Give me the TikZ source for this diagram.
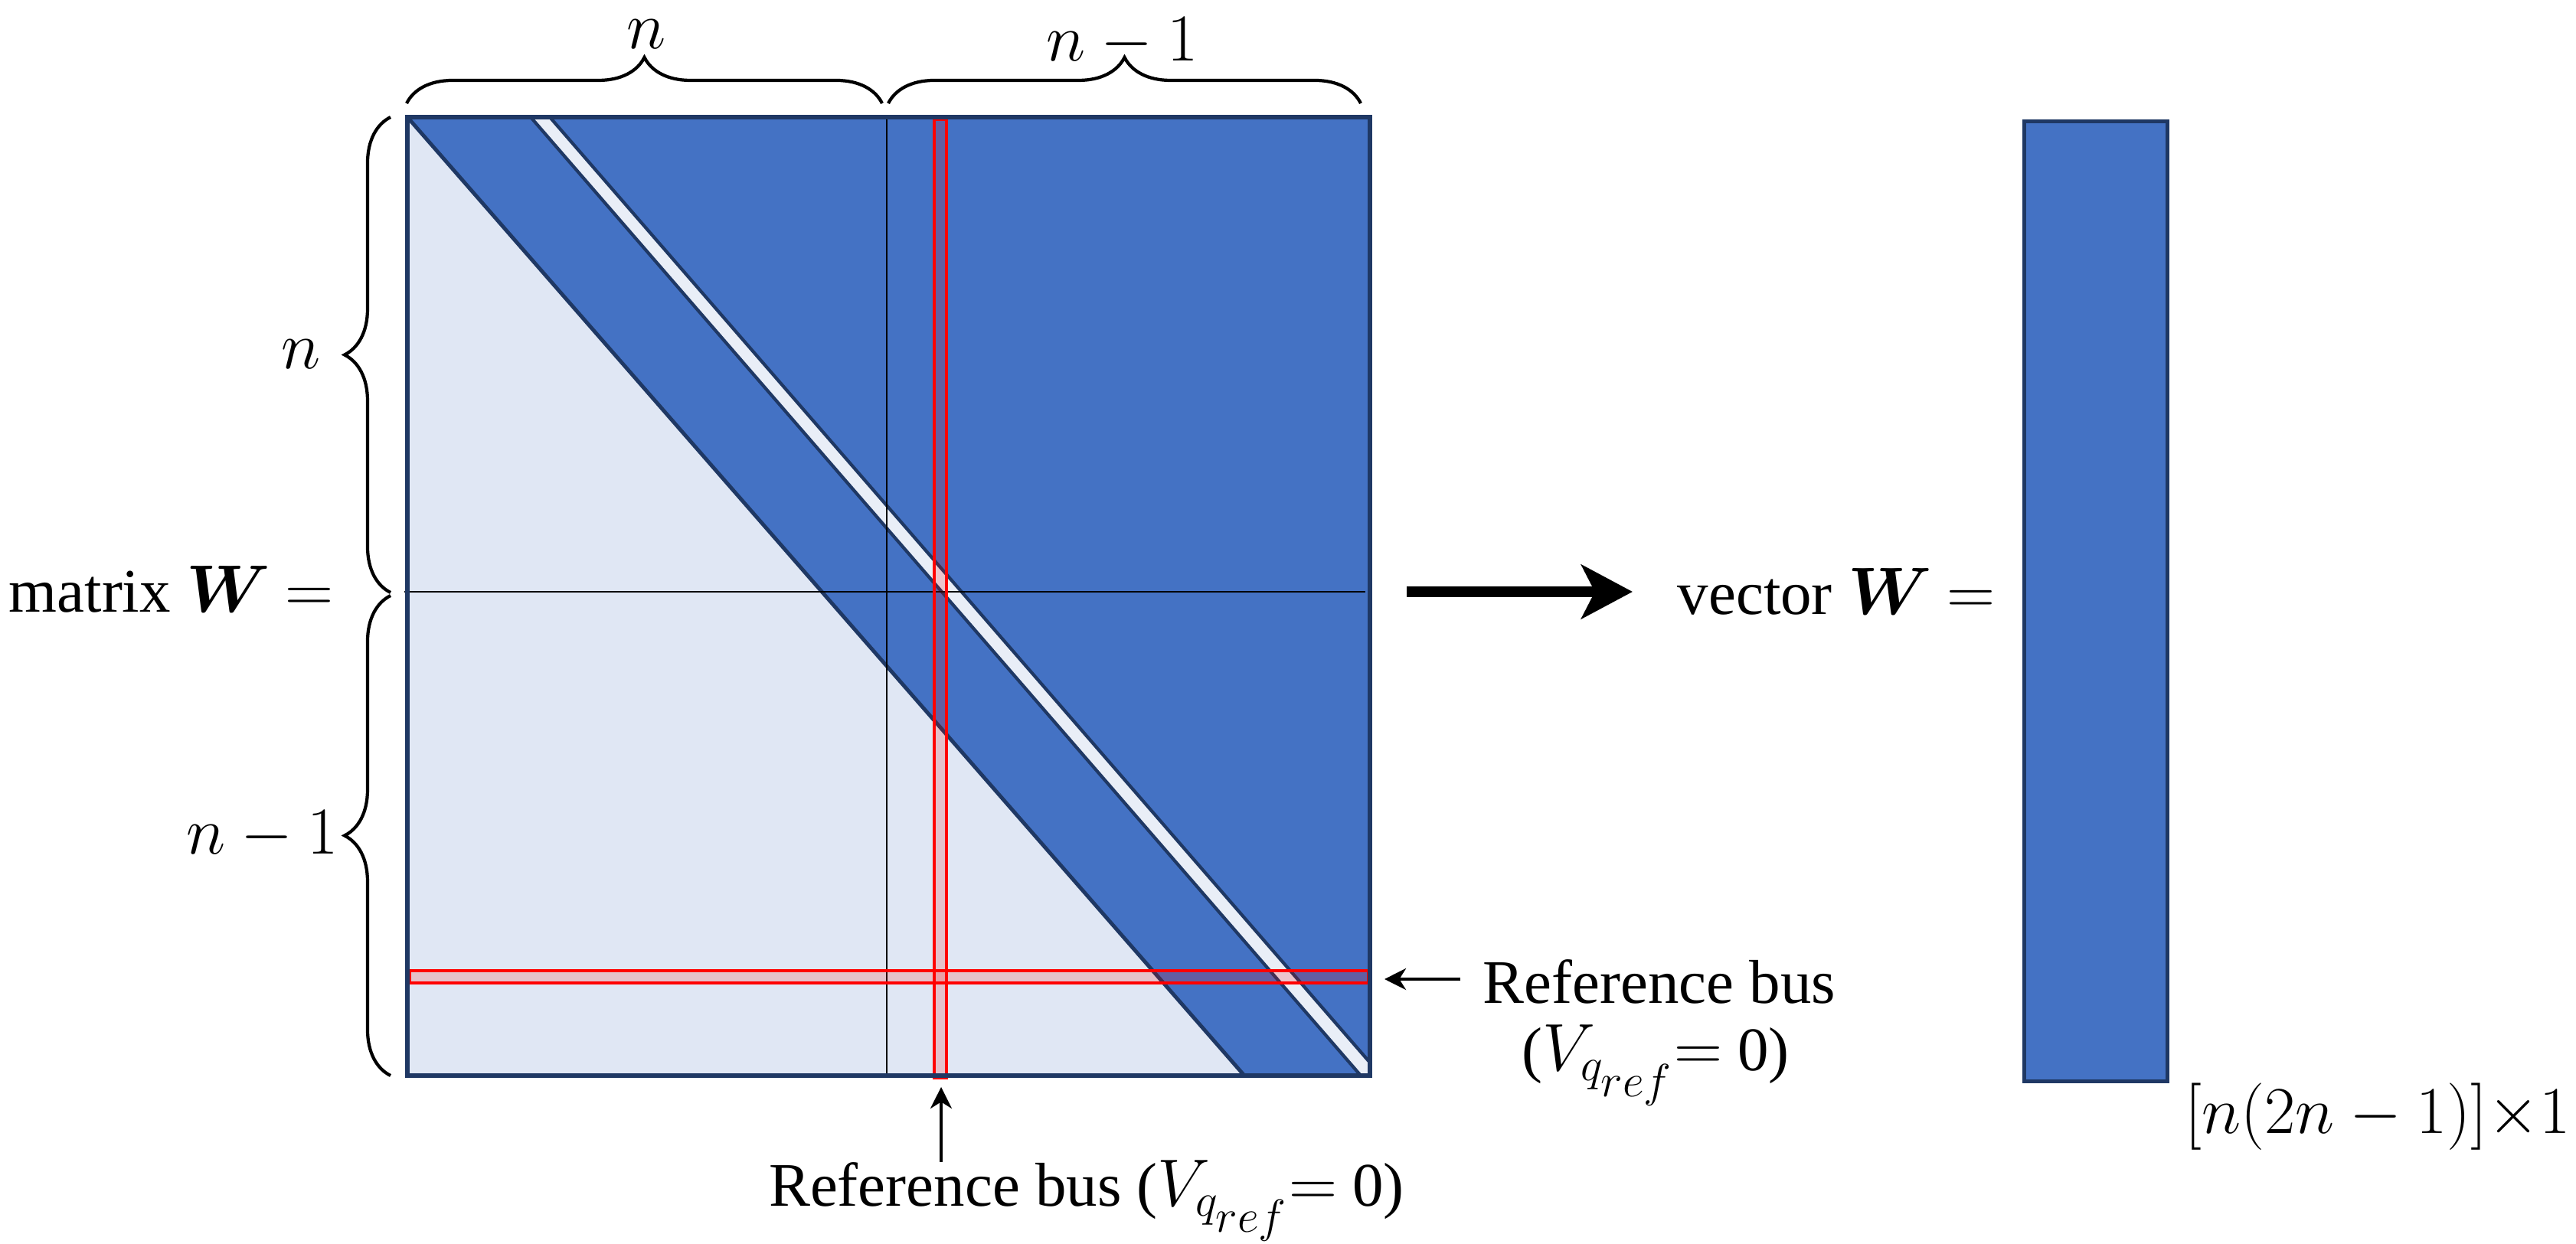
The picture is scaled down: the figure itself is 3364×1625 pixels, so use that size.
\documentclass[tikz,border=0pt]{standalone}
\usepackage{fontspec}
\setmainfont{Liberation Serif}
\usepackage{amsmath,bm}
\usetikzlibrary{arrows.meta,decorations.pathreplacing}
\definecolor{dblue}{HTML}{4472C4}
\definecolor{lblue}{HTML}{E0E7F4}
\definecolor{navy}{HTML}{1F3864}
\begin{document}
\begin{tikzpicture}[x=0.01cm,y=0.01cm,
  font=\fontsize{23}{28}\selectfont,
  outl/.style={draw=navy, line width=1.4pt, line join=round},
  divl/.style={draw=black, line width=0.6pt},
  redbar/.style={draw=red, line width=1.4pt, fill=red, fill opacity=0.17},
  bracel/.style={decorate, decoration={brace, amplitude=0.6cm}, line width=1.2pt},
  annot/.style={-{Stealth[length=8pt,width=8pt,inset=2.5pt]}, line width=0.9pt},
  bigarrow/.style={-{Stealth[length=19pt,width=20pt,inset=5pt]}, line width=3.7pt},
  lbl/.style={inner sep=0pt}]
\useasboundingbox (0,0) rectangle (3364,-1625);
% matrix corners
\coordinate (TL) at (532,-153);
\coordinate (TR) at (1789,-153);
\coordinate (BR) at (1789,-1405);
\coordinate (BL) at (532,-1405);
\coordinate (D1) at (1625,-1405);
% fills
\fill[lblue] (TL) rectangle (BR);
\fill[dblue] (TL) -- (TR) -- (BR) -- (D1) -- cycle;
\draw[outl] (TL) -- (D1);
\filldraw[fill=lblue!70!white, outl, line width=1.2pt] (693,-153) -- (718,-153) -- (1789,-1388) -- (1789,-1405) -- (1777,-1405) -- cycle;
% dividers
\draw[divl] (1158,-153) -- (1158,-1405);
\draw[divl] (528,-773) -- (1783,-773);
% red bars
\draw[redbar] (1220,-156) rectangle (1236,-1408);
\draw[redbar] (535,-1268) rectangle (1787,-1284);
% border
\draw[navy, line width=1.7pt] (TL) rectangle (BR);
% vector
\node[draw=navy, fill=dblue, line width=1.5pt, minimum width=1.87cm, minimum height=12.53cm, inner sep=0pt, anchor=north west] (vec) at (2641,-156) {};
% braces
\draw[bracel] (531,-135) -- (1152,-135);
\draw[bracel] (1160,-135) -- (1777,-135);
\draw[bracel] (510,-774) -- (510,-153);
\draw[bracel] (510,-1405) -- (510,-778);
% labels
\node[lbl, anchor=base] (ntop) at (844,-64) {$n$};
\node[lbl, anchor=base] (nm1top) at (1466,-80) {$n-1$};
\node[lbl] (nleft) at (393,-463) {$n$};
\node[lbl, anchor=base] (nm1left) at (343,-1115) {$n-1$};
\node[lbl, anchor=base west] (matW) at (11,-799) {matrix $\boldsymbol{W}$ $=$};
\node[lbl, anchor=base west] (vecW) at (2190,-802) {vector $\boldsymbol{W}$ $=$};
\node[lbl, anchor=base west] (refR) at (1936,-1310) {Reference bus};
\node[lbl, anchor=base] (refR2) at (2162,-1398) {($V_{q_{\scriptstyle ref}}$$=$ 0)};
\node[lbl, anchor=base] (refB) at (1419,-1575) {Reference bus ($V_{q_{\scriptstyle ref}}$$=$ 0)};
\node[lbl, anchor=base west] (dim) at (2853,-1480) {$[n(2n-1)]{\times}1$};
% arrows
\coordinate (ba1) at (1837,-773);
\coordinate (ba2) at (2132,-773);
\draw[bigarrow] (ba1) -- (ba2);
\coordinate (ha1) at (1907,-1279);
\coordinate (ha2) at (1808,-1279);
\draw[annot] (ha1) -- (ha2);
\coordinate (va1) at (1229,-1518);
\coordinate (va2) at (1229,-1420);
\draw[annot] (va1) -- (va2);
\end{tikzpicture}
\end{document}
